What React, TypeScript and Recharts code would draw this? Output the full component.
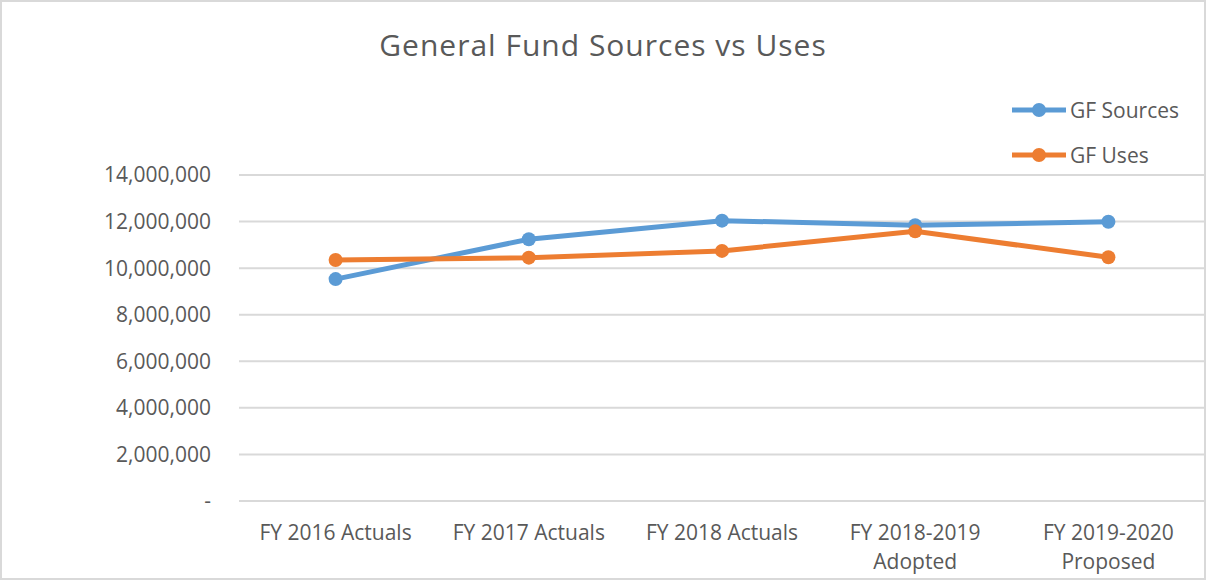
import React from 'react';
import { ComposedChart, Line, XAxis, YAxis, CartesianGrid, Legend } from 'recharts';

const categories = ['FY 2016 Actuals', 'FY 2017 Actuals', 'FY 2018 Actuals', 'FY 2018-2019\nAdopted', 'FY 2019-2020\nProposed'];
const gfSources = [9530000, 11240000, 12040000, 11840000, 11990000];
const gfUses = [10350000, 10450000, 10740000, 11580000, 10470000];
const yTicks = [0, 2000000, 4000000, 6000000, 8000000, 10000000, 12000000, 14000000];
const seriesNames = ['GF Sources', 'GF Uses'];
const seriesColors = ['#5B9BD5', '#ED7D31'];

const data = categories.map((c, i) => ({ category: c, sources: gfSources[i], uses: gfUses[i] }));

const FONT = '"Open Sans", sans-serif';
const TEXT = '#595959';

const XTick = (props: any) => {
  const { x, y, payload } = props;
  const lines = String(payload.value).split('\n');
  return (
    <g>
      {lines.map((l: string, i: number) => (
        <text key={i} x={x} y={y + 39 + i * 29} textAnchor="middle" fill={TEXT} fontSize={21} fontFamily={FONT}>
          {l}
        </text>
      ))}
    </g>
  );
};

const LegendContent = () => (
  <div style={{ fontFamily: FONT, fontSize: 21, color: TEXT }}>
    {seriesNames.map((n, i) => (
      <div key={n} style={{ display: 'flex', alignItems: 'center', height: 45 }}>
        <svg width={56} height={20} style={{ marginRight: 2 }}>
          <line x1={0} y1={10} x2={54} y2={10} stroke={seriesColors[i]} strokeWidth={5} />
          <circle cx={27} cy={10} r={7} fill={seriesColors[i]} />
        </svg>
        <span>{n}</span>
      </div>
    ))}
  </div>
);

export default function App() {
  return (
    <div style={{ position: 'absolute', left: 0, top: 0, width: 1206, height: 580, background: '#fff' }}>
      <div
        style={{
          position: 'absolute', left: 0, top: 0, width: 1206, height: 580, boxSizing: 'border-box',
          border: '2px solid #d9d9d9', pointerEvents: 'none', zIndex: 2,
        }}
      />
      <div
        style={{
          position: 'absolute', left: 0, top: 25, width: 1206, textAlign: 'center', fontFamily: FONT,
          fontSize: 30, color: TEXT, letterSpacing: 1, lineHeight: '40px',
        }}
      >
        General Fund Sources vs Uses
      </div>
      <ComposedChart width={1206} height={580} data={data} margin={{ top: 175, right: 1, bottom: 0, left: 0 }}>
        <CartesianGrid horizontal vertical={false} stroke="#d9d9d9" strokeWidth={2} />
        <XAxis
          dataKey="category"
          scale="band"
          axisLine={false}
          tickLine={false}
          tickSize={0}
          tickMargin={0}
          height={79}
          interval={0}
          tick={<XTick />}
        />
        <YAxis
          width={239}
          domain={[0, 14000000]}
          ticks={yTicks}
          axisLine={false}
          tickLine={false}
          tickSize={0}
          tickMargin={28}
          tick={{ fill: TEXT, fontSize: 21, fontFamily: FONT }}
          tickFormatter={(v: number) => (v === 0 ? '-' : v.toLocaleString('en-US'))}
        />
        <Legend
          layout="horizontal"
          verticalAlign="middle"
          align="center"
          content={<LegendContent />}
          wrapperStyle={{ position: 'absolute', left: 1012, top: 87, width: 190, height: 92 }}
        />
        <Line
          type="linear"
          dataKey="sources"
          name={seriesNames[0]}
          stroke={seriesColors[0]}
          strokeWidth={5}
          dot={{ r: 7, fill: seriesColors[0], stroke: seriesColors[0], strokeWidth: 0 }}
          activeDot={false}
          isAnimationActive={false}
        />
        <Line
          type="linear"
          dataKey="uses"
          name={seriesNames[1]}
          stroke={seriesColors[1]}
          strokeWidth={5}
          dot={{ r: 7, fill: seriesColors[1], stroke: seriesColors[1], strokeWidth: 0 }}
          activeDot={false}
          isAnimationActive={false}
        />
      </ComposedChart>
    </div>
  );
}
